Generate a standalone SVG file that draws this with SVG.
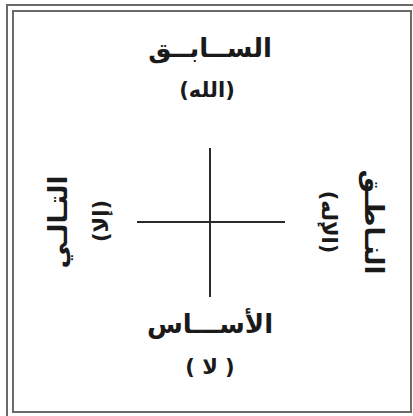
<svg xmlns="http://www.w3.org/2000/svg" width="413" height="416" viewBox="0 0 413 416">
<style>
.frame{fill:none;stroke:#6a6a6a;stroke-width:2}
.ln{stroke:#2a2a2a;stroke-width:2;fill:none}
.t{font-family:"DejaVu Sans",sans-serif;font-weight:bold;fill:#1a1a1a;text-anchor:middle}
.big{font-size:26px}
.sm{font-size:21px}
</style>
<rect width="413" height="416" fill="#ffffff"/>
<g id="frame">
<polyline class="frame" points="7,416 7,5 413,5"/>
<rect class="frame" x="13" y="11" width="398" height="401"/>
</g>
<g id="connectors">
<line class="ln" x1="210" y1="148" x2="210" y2="297"/>
<line class="ln" x1="137" y1="222" x2="285" y2="222"/>
</g>
<g id="top">
<text class="t big" x="210" y="57" direction="rtl">الســابــق</text>
<text class="t sm" x="207" y="97" direction="rtl">(الله)</text>
</g>
<g id="bottom">
<text class="t big" x="210" y="333" direction="rtl">الأســـاس</text>
<text class="t sm" x="210" y="374" direction="rtl">( لا )</text>
</g>
<g id="left">
<text class="t big" transform="translate(58,222) rotate(-90)" x="0" y="9" direction="rtl">التـالـي</text>
<text class="t sm" transform="translate(100,221) rotate(-90)" x="0" y="8" direction="rtl">(إلا)</text>
</g>
<g id="right">
<text class="t big" transform="translate(370,222) rotate(90)" x="0" y="5" direction="rtl">النـاطـق</text>
<text class="t sm" transform="translate(328,222) rotate(90)" x="0" y="6" direction="rtl">(الإله)</text>
</g>
</svg>
